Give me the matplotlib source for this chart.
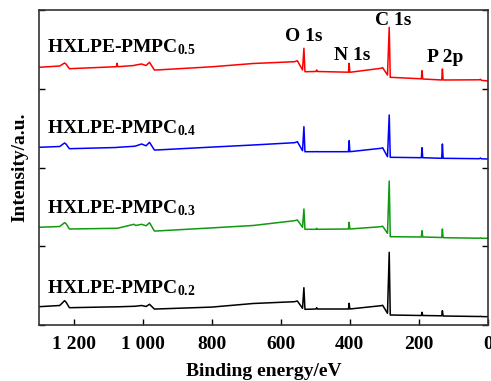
import matplotlib
matplotlib.use("Agg")
import matplotlib.pyplot as plt

plt.rcParams["font.family"] = ["Liberation Serif", "DejaVu Serif"]
plt.rcParams["font.weight"] = "bold"
plt.rcParams["mathtext.fontset"] = "custom"
plt.rcParams["mathtext.rm"] = "Liberation Serif:bold"
plt.rcParams["mathtext.bf"] = "Liberation Serif:bold"
plt.rcParams["mathtext.it"] = "Liberation Serif:bold"

# Binding energy vertices (eV) shared by all survey spectra
energy_ev = [1300, 1240, 1226, 1222, 1212, 1076, 1074, 1072, 1025, 1020,
             1003, 990, 980, 966, 960, 800, 680, 560, 552, 537,
             533, 530, 526, 498, 496, 494, 404, 402, 400, 310,
             305, 291, 286, 283, 193, 191, 189, 134, 132, 130,
             25, 22, 19, 0]

# Offset intensities (a.u.) of each sample
int_05 = [257.7, 259.0, 262.0, 261.0, 256.3, 258.3, 261.7, 258.3, 259.5, 260.0,
          261.0, 259.5, 262.7, 255.0, 255.0, 258.2, 261.5, 263.3, 264.3, 255.0,
          276.7, 253.3, 253.3, 253.5, 255.0, 253.5, 252.8, 261.7, 252.7, 256.7,
          257.3, 250.0, 297.7, 247.7, 246.2, 254.3, 246.0, 245.0, 256.0, 245.0,
          245.2, 245.7, 244.7, 244.0]
int_04 = [177.7, 178.5, 182.0, 181.0, 176.3, 177.5, 177.6, 177.7, 178.7, 179.0,
          181.0, 179.2, 182.7, 175.0, 175.0, 177.9, 180.0, 182.3, 183.3, 174.3,
          198.3, 173.3, 173.3, 173.3, 173.5, 173.3, 173.3, 184.3, 173.3, 176.7,
          177.2, 168.3, 210.0, 167.7, 167.3, 177.3, 167.3, 166.7, 181.0, 166.7,
          166.3, 167.0, 166.2, 166.0]
int_03 = [97.7, 98.5, 102.3, 101.5, 96.0, 96.7, 96.8, 96.8, 100.7, 99.5,
          100.7, 99.2, 102.3, 94.0, 94.0, 97.1, 99.5, 104.3, 105.0, 97.7,
          116.0, 95.7, 95.7, 95.7, 96.7, 95.7, 96.0, 102.7, 96.0, 98.3,
          98.8, 91.7, 144.0, 88.3, 88.0, 94.3, 88.0, 87.5, 96.0, 87.3,
          86.8, 87.2, 86.7, 86.7]
int_02 = [18.3, 19.5, 24.3, 23.0, 17.3, 18.2, 18.2, 18.2, 18.7, 18.8,
          19.5, 18.5, 20.7, 16.0, 16.0, 17.9, 21.5, 23.3, 24.0, 16.7,
          37.3, 15.7, 15.7, 16.0, 17.3, 16.0, 16.0, 21.7, 16.0, 19.3,
          19.7, 11.7, 72.7, 10.0, 9.5, 12.7, 9.5, 9.2, 14.3, 9.0,
          8.5, 8.7, 8.4, 8.3]

series = [
    (int_05, "#ff0000", r"HXLPE-PMPC$_{0.5}$", 273),
    (int_04, "#0000ff", r"HXLPE-PMPC$_{0.4}$", 192),
    (int_03, "#109a10", r"HXLPE-PMPC$_{0.3}$", 112),
    (int_02, "#000000", r"HXLPE-PMPC$_{0.2}$", 32),
]

peak_labels = [("O 1s", 534, 284), ("N 1s", 394, 265),
               ("C 1s", 274, 300), ("P 2p", 123, 263)]

x_ticks = [1200, 1000, 800, 600, 400, 200, 0]
x_tick_labels = ["1 200", "1 000", "800", "600", "400", "200", "0"]

fig = plt.figure(figsize=(4.91, 3.81), dpi=100)
ax = fig.add_axes([39 / 491, 56 / 381, 449 / 491, 315 / 381])

for vals, color, label, label_y in series:
    ax.plot(energy_ev, vals, color=color, lw=1.1)
    ax.text(1277, label_y, label, fontsize=14, fontweight="bold",
            ha="left", va="baseline")

for text, xe, ye in peak_labels:
    ax.text(xe, ye, text, fontsize=14, fontweight="bold",
            ha="center", va="baseline")

ax.set_xlim(1300, 0)
ax.set_ylim(0, 315)
ax.set_xticks(x_ticks)
ax.set_xticklabels(x_tick_labels)
ax.set_yticks([0, 78.75, 157.5, 236.25, 315])
ax.set_yticklabels([])
ax.tick_params(axis="x", direction="in", length=4, width=1.0, labelsize=14, pad=8)
ax.tick_params(axis="y", direction="in", length=4, width=1.0, left=True, right=True)
for lab in ax.get_xticklabels():
    lab.set_fontweight("bold")
for sp in ax.spines.values():
    sp.set_linewidth(1.2)
    sp.set_color("#333333")

ax.set_xlabel("Binding energy/eV", fontsize=14, fontweight="bold", labelpad=7)
ax.set_ylabel("Intensity/a.u.", fontsize=14, fontweight="bold", labelpad=4)

fig.savefig("out.png", dpi=100)
